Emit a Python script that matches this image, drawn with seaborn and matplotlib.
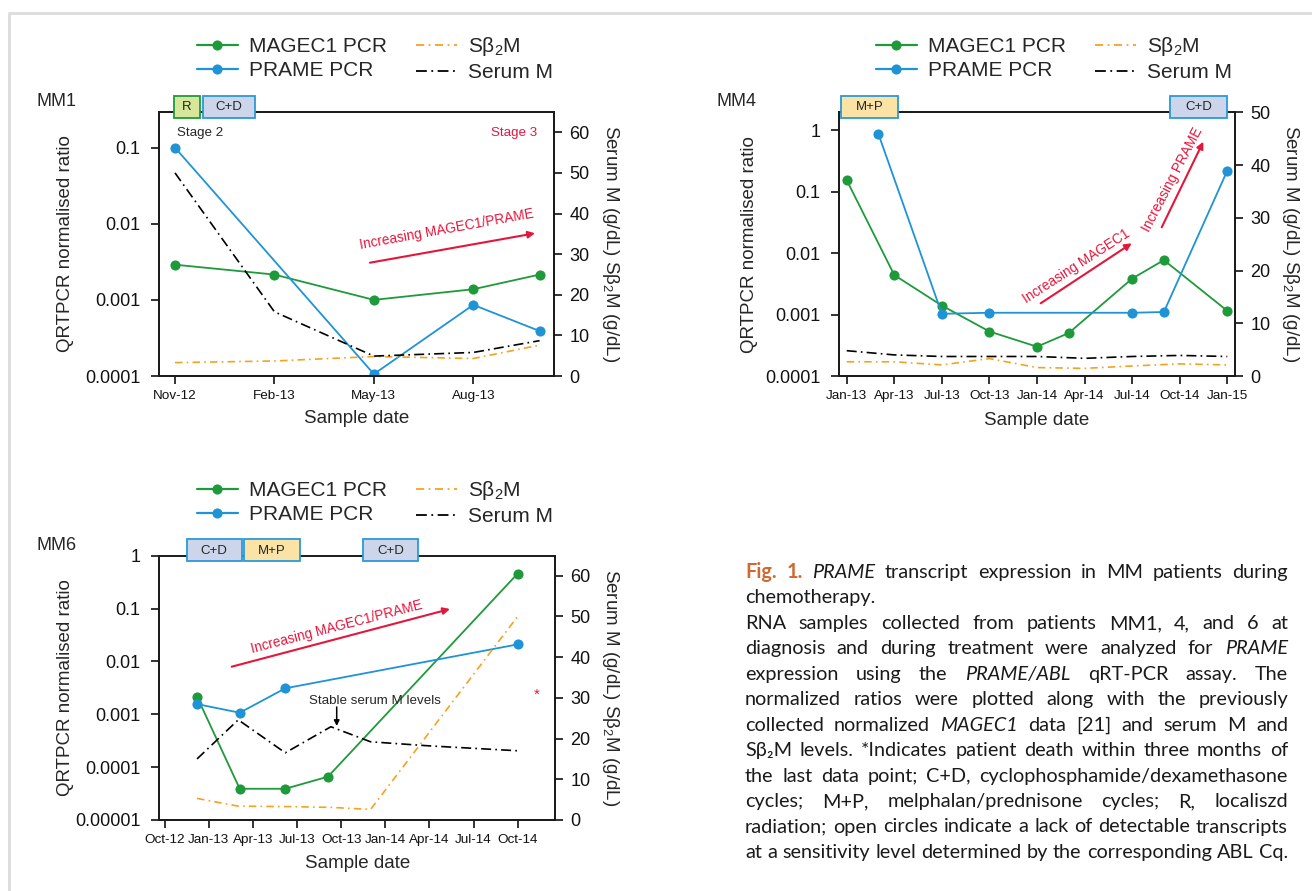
import matplotlib
matplotlib.use('Agg')
import matplotlib.pyplot as plt
import matplotlib.ticker as mticker
from matplotlib.lines import Line2D
from matplotlib.patches import Rectangle, FancyArrowPatch
import seaborn as sns

# ---------------- data (x = months since Jan-2012) ----------------
SERIES = ['MAGEC1 PCR', 'PRAME PCR', r'S$\mathrm{\beta}_\mathrm{2}$M', 'Serum M']

# MM1
mm1_magec1_x = [10, 13, 16, 19, 21]
mm1_magec1_y = [2.9e-3, 2.15e-3, 1.0e-3, 1.38e-3, 2.15e-3]
mm1_prame_x = [10, 16, 19, 21]
mm1_prame_y = [0.1, 1.06e-4, 8.6e-4, 3.9e-4]
mm1_serum_x = [10, 13, 16, 19, 21]
mm1_serum_m = [50, 15.8, 4.9, 5.8, 8.7]
mm1_sb2m_x = [10, 13, 16, 19, 21]
mm1_sb2m = [3.3, 3.7, 4.8, 4.3, 7.6]
mm1_xticks = [10, 13, 16, 19]
mm1_xlabels = ['Nov-12', 'Feb-13', 'May-13', 'Aug-13']
mm1_yticks = [1e-4, 1e-3, 1e-2, 1e-1]
mm1_ylabels = ['0.0001', '0.001', '0.01', '0.1']
mm1_rticks = [0, 10, 20, 30, 40, 50, 60]

# MM4
mm4_magec1_x = [12, 15, 18, 21, 24, 26, 30, 32, 36]
mm4_magec1_y = [0.154, 4.4e-3, 1.4e-3, 5.3e-4, 3.0e-4, 5.0e-4, 3.85e-3, 7.7e-3, 1.15e-3]
mm4_prame_x = [14, 18, 21, 30, 32, 36]
mm4_prame_y = [0.87, 1.03e-3, 1.07e-3, 1.07e-3, 1.1e-3, 0.22]
mm4_serum_x = [12, 15, 18, 21, 24, 27, 30, 33, 36]
mm4_serum_m = [4.8, 4.0, 3.7, 3.7, 3.7, 3.35, 3.7, 3.9, 3.7]
mm4_sb2m_x = [12, 15, 18, 21, 24, 27, 30, 33, 36]
mm4_sb2m = [2.7, 2.7, 2.1, 3.3, 1.6, 1.45, 1.9, 2.3, 2.1]
mm4_xticks = [12, 15, 18, 21, 24, 27, 30, 33, 36]
mm4_xlabels = ['Jan-13', 'Apr-13', 'Jul-13', 'Oct-13', 'Jan-14', 'Apr-14', 'Jul-14', 'Oct-14', 'Jan-15']
mm4_yticks = [1e-4, 1e-3, 1e-2, 1e-1, 1]
mm4_ylabels = ['0.0001', '0.001', '0.01', '0.1', '1']
mm4_rticks = [0, 10, 20, 30, 40, 50]

# MM6
mm6_magec1_x = [11.2, 14.1, 17.2, 20.1, 33]
mm6_magec1_y = [2.14e-3, 3.9e-5, 3.9e-5, 6.6e-5, 0.46]
mm6_prame_x = [11.2, 14.1, 17.2, 33]
mm6_prame_y = [1.56e-3, 1.07e-3, 3.1e-3, 0.021]
mm6_serum_x = [11.2, 14.0, 17.2, 20.3, 23, 27, 33]
mm6_serum_m = [15, 24.6, 16.5, 22.9, 19.2, 18.2, 17.0]
mm6_sb2m_x = [11.2, 14.0, 17.2, 20.3, 23, 33]
mm6_sb2m = [5.3, 3.4, 3.3, 3.1, 2.6, 50]
mm6_xticks = [9, 12, 15, 18, 21, 24, 27, 30, 33]
mm6_xlabels = ['Oct-12', 'Jan-13', 'Apr-13', 'Jul-13', 'Oct-13', 'Jan-14', 'Apr-14', 'Jul-14', 'Oct-14']
mm6_yticks = [1e-5, 1e-4, 1e-3, 1e-2, 1e-1, 1]
mm6_ylabels = ['0.00001', '0.0001', '0.001', '0.01', '0.1', '1']
mm6_rticks = [0, 10, 20, 30, 40, 50, 60]

CAPTION = [
    ("^Fig.^ ^1.^ _PRAME_ transcript expression in MM patients during", True),
    ("chemotherapy.", False),
    ("RNA samples collected from patients MM1, 4, and 6 at", True),
    ("diagnosis and during treatment were analyzed for _PRAME_", True),
    ("expression using the _PRAME/ABL_ qRT-PCR assay. The", True),
    ("normalized ratios were plotted along with the previously", True),
    ("collected normalized _MAGEC1_ data [21] and serum M and", True),
    ("Sβ₂M levels. *Indicates patient death within three months of", True),
    ("the last data point; C+D, cyclophosphamide/dexamethasone", True),
    ("cycles; M+P, melphalan/prednisone cycles; R, localiszd", True),
    ("radiation; open circles indicate a lack of detectable transcripts", True),
    ("at a sensitivity level determined by the corresponding ABL Cq.", True),
]

# ---------------- style ----------------
GREEN = '#1f9a3b'
BLUE = '#1f93d6'
ORANGE = '#f5a31f'
RED = '#e5163c'
FIGC = '#cf6a2e'
CD_FILL, MP_FILL, R_FILL = '#ccd5ea', '#fbe3a5', '#d6e69a'
BOX_EDGE = '#2b9ad8'
SM_LS = (0, (6, 2.5, 1, 2.5))
SB_LS = (0, (4.5, 2.5, 1, 2.5))

sns.set_style('ticks')
plt.rcParams['font.family'] = ['Liberation Sans', 'DejaVu Sans']
plt.rcParams['mathtext.fontset'] = 'custom'
plt.rcParams['mathtext.rm'] = 'Liberation Sans'
plt.rcParams['mathtext.it'] = 'Liberation Sans:italic'
plt.rcParams['axes.edgecolor'] = '#1a1a1a'
plt.rcParams['axes.linewidth'] = 1.3

W, H = 1312, 891
fig = plt.figure(figsize=(W / 100, H / 100), dpi=100)
fig.patch.set_facecolor('white')


def fx(x):
    return x / W


def fy(y):
    return 1 - y / H


def P(x, y):
    return (fx(x), fy(y))


def draw_panel(rect_px, xlim, ylim, rlim, d, ylab_x, xlab_y, legend_xy):
    l, t, r, b = rect_px
    ax = fig.add_axes([fx(l), fy(b), (r - l) / W, (b - t) / H])
    ax.set_yscale('log')
    ax2 = ax.twinx()
    sns.lineplot(x=d['mx'], y=d['my'], ax=ax, color=GREEN, marker='o', markersize=7.3,
                 mec=GREEN, mew=0, linewidth=1.3, sort=False, estimator=None)
    sns.lineplot(x=d['px'], y=d['py'], ax=ax, color=BLUE, marker='o', markersize=7.3,
                 mec=BLUE, mew=0, linewidth=1.3, sort=False, estimator=None)
    sns.lineplot(x=d['bx'], y=d['b'], ax=ax2, color=ORANGE, linestyle=SB_LS,
                 linewidth=1.2, sort=False, estimator=None)
    sns.lineplot(x=d['sx'], y=d['s'], ax=ax2, color='black', linestyle=SM_LS,
                 linewidth=1.2, sort=False, estimator=None)
    ax.set_xlim(*xlim)
    ax.set_ylim(*ylim)
    ax2.set_ylim(*rlim)
    ax.xaxis.set_major_locator(mticker.FixedLocator(d['xt']))
    ax.xaxis.set_major_formatter(mticker.FixedFormatter(d['xl']))
    ax.yaxis.set_major_locator(mticker.FixedLocator(d['yt']))
    ax.yaxis.set_minor_locator(mticker.NullLocator())
    ax.yaxis.set_major_formatter(mticker.FixedFormatter(d['yl']))
    ax2.yaxis.set_major_locator(mticker.FixedLocator(d['rt']))
    ax2.yaxis.set_major_formatter(mticker.FixedFormatter([str(v) for v in d['rt']]))
    ax.tick_params(axis='y', direction='out', length=5.5, width=1.2, pad=8,
                   colors='#111', labelsize=13)
    ax.tick_params(axis='x', direction='out', length=5.5, width=1.2, pad=4.5,
                   colors='#111', labelsize=9.7)
    ax2.tick_params(axis='y', direction='out', length=5.5, width=1.2, pad=5.5,
                    colors='#111', labelsize=13)
    ax.set_ylabel('QRTPCR normalised ratio', fontsize=13.5, va='center')
    ax.yaxis.set_label_coords((ylab_x - l) / (r - l), 0.5)
    ax.set_xlabel('Sample date', fontsize=13.5, va='center')
    ax.xaxis.set_label_coords(0.5, -(xlab_y - b) / (b - t))
    ax2.set_ylabel(r'Serum M (g/dL) S$\mathrm{\beta}_\mathrm{2}$M (g/dL)', fontsize=13.5,
                   rotation=270, va='center', ha='center')
    ax2.yaxis.set_label_coords((r + 56 - l) / (r - l), 0.5)
    ax.grid(False)
    ax2.grid(False)

    handles = [Line2D([], [], color=GREEN, marker='o', ms=7.3, mew=0, lw=1.6),
               Line2D([], [], color=BLUE, marker='o', ms=7.3, mew=0, lw=1.6),
               Line2D([], [], color=ORANGE, ls=SB_LS, lw=1.3),
               Line2D([], [], color='black', ls=SM_LS, lw=1.3)]
    ax2.legend(handles, SERIES, ncol=2, loc='upper left', bbox_to_anchor=P(*legend_xy),
               bbox_transform=fig.transFigure, frameon=False, fontsize=15,
               handlelength=1.95, handletextpad=0.55, columnspacing=1.4,
               labelspacing=0.25, borderpad=0, borderaxespad=0)
    return ax, ax2


panels = [
    dict(mx=mm1_magec1_x, my=mm1_magec1_y, px=mm1_prame_x, py=mm1_prame_y,
         sx=mm1_serum_x, s=mm1_serum_m, bx=mm1_sb2m_x, b=mm1_sb2m,
         xt=mm1_xticks, xl=mm1_xlabels, yt=mm1_yticks, yl=mm1_ylabels, rt=mm1_rticks),
    dict(mx=mm4_magec1_x, my=mm4_magec1_y, px=mm4_prame_x, py=mm4_prame_y,
         sx=mm4_serum_x, s=mm4_serum_m, bx=mm4_sb2m_x, b=mm4_sb2m,
         xt=mm4_xticks, xl=mm4_xlabels, yt=mm4_yticks, yl=mm4_ylabels, rt=mm4_rticks),
    dict(mx=mm6_magec1_x, my=mm6_magec1_y, px=mm6_prame_x, py=mm6_prame_y,
         sx=mm6_serum_x, s=mm6_serum_m, bx=mm6_sb2m_x, b=mm6_sb2m,
         xt=mm6_xticks, xl=mm6_xlabels, yt=mm6_yticks, yl=mm6_ylabels, rt=mm6_rticks),
]

ax1, ax1r = draw_panel((159.3, 112, 554.3, 376), (9.526, 21.444), (1e-4, 0.294), (0, 65),
                       panels[0], 66, 418, (197, 35))
ax4, ax4r = draw_panel((839, 112.3, 1235, 376), (11.514, 36.486), (1e-4, 1.96), (0, 50),
                       panels[1], 750, 420, (876, 35))
ax6, ax6r = draw_panel((159.3, 555.7, 555, 820), (8.633, 35.536), (1e-5, 1), (0, 64.9),
                       panels[2], 66, 863, (197, 479))
ax6.spines['top'].set_color('#555555')

# panel names
for name, (x, y) in [('MM1', (37, 102)), ('MM4', (717, 102)), ('MM6', (37, 545))]:
    fig.text(fx(x), fy(y), name, fontsize=13, ha='left', va='center')

# treatment boxes
boxes = [
    (174, 200, 96, 118, 'R', R_FILL, GREEN),
    (202.7, 255.3, 96, 118, 'C+D', CD_FILL, BOX_EDGE),
    (840.7, 898.3, 96, 118, 'M+P', MP_FILL, BOX_EDGE),
    (1170, 1227.3, 96, 118, 'C+D', CD_FILL, BOX_EDGE),
    (186.7, 241.7, 539.3, 561.3, 'C+D', CD_FILL, BOX_EDGE),
    (244, 300, 539.3, 561.3, 'M+P', MP_FILL, BOX_EDGE),
    (363.3, 418.3, 539.3, 561.3, 'C+D', CD_FILL, BOX_EDGE),
]
for x0, x1, y0, y1, lab, fc, ec in boxes:
    fig.add_artist(Rectangle(P(x0, y1), (x1 - x0) / W, (y1 - y0) / H, transform=fig.transFigure,
                             facecolor=fc, edgecolor=ec, linewidth=1.3, zorder=5))
    fig.text(fx((x0 + x1) / 2), fy((y0 + y1) / 2 + 0.5), lab, fontsize=9.5, ha='center',
             va='center', zorder=6)

# annotations
fig.text(fx(177), fy(133), 'Stage 2', fontsize=9.6, ha='left', va='center')
fig.text(fx(537), fy(133), 'Stage 3', fontsize=9.6, ha='right', va='center', color=RED)
fig.text(fx(536.7), fy(695), '*', fontsize=11, ha='center', va='center', color=RED)
fig.text(fx(374.7), fy(700.5), 'Stable serum M levels', fontsize=9.6, ha='center', va='center')

notes = [
    ('Increasing MAGEC1/PRAME', (447, 229), 10.3, (370, 262.7), (535, 233.3)),
    ('Increasing MAGEC1', (1076, 266), 33.0, (1040.7, 303.3), (1131.7, 243.3)),
    ('Increasing PRAME', (1172, 180), 62.5, (1161.7, 227.3), (1203.3, 141.7)),
    ('Increasing MAGEC1/PRAME', (337, 627), 14.6, (231.7, 666.7), (450, 609)),
]
for txt, (cx, cy), rot, a0, a1 in notes:
    fig.text(fx(cx), fy(cy), txt, fontsize=9.8, color=RED, rotation=rot, ha='center',
             va='center', rotation_mode='anchor')
    fig.add_artist(FancyArrowPatch(P(*a0), P(*a1), transform=fig.transFigure,
                                   arrowstyle='-|>', color=RED, lw=1.5, mutation_scale=10,
                                   shrinkA=0, shrinkB=0, zorder=6))
fig.add_artist(FancyArrowPatch(P(336.7, 707), P(336.7, 726), transform=fig.transFigure,
                               arrowstyle='-|>', color='black', lw=1.1, mutation_scale=8,
                               shrinkA=0, shrinkB=0, zorder=6))

# page frame
fig.add_artist(Line2D([fx(9), fx(9), fx(1312)], [fy(891), fy(13), fy(13)],
                      transform=fig.transFigure, color='#dcdcdc', lw=2))

# ---------------- caption (justified) ----------------
CAP_FAMILY = ['Lato', 'DejaVu Sans']
X0, X1 = 745, 1288
BASE0, DY = 578, 25.45
renderer = fig.canvas.get_renderer()


def parse(tok):
    if len(tok) > 2 and tok.startswith('^') and tok.endswith('^'):
        return tok[1:-1], dict(color=FIGC, fontweight='bold')
    if len(tok) > 2 and tok.startswith('_') and tok.endswith('_'):
        return tok[1:-1], dict(style='italic')
    return tok, {}


def measure(s, size, **kw):
    t = fig.text(0, 0, s, fontsize=size, family=CAP_FAMILY, **kw)
    w = t.get_window_extent(renderer=renderer).width
    t.remove()
    return w


base = 14.3
space = measure('x x', base) - measure('xx', base)
need = []
for line, _ in CAPTION:
    ws = [measure(s, base, **kw) for s, kw in (parse(w) for w in line.split())]
    need.append(sum(ws) + 0.5 * space * (len(ws) - 1))
size = base * min(1.0, (X1 - X0 - 1) / max(need))

space = measure('x x', size) - measure('xx', size)
for i, (line, just) in enumerate(CAPTION):
    words = [parse(w) for w in line.split()]
    widths = [measure(s, size, **kw) for s, kw in words]
    if just and len(words) > 1:
        gap = (X1 - X0 - sum(widths)) / (len(words) - 1)
    else:
        gap = space
    x = X0
    y = BASE0 + i * DY
    for (s, kw), w in zip(words, widths):
        fig.text(fx(x), fy(y), s, fontsize=size, family=CAP_FAMILY, ha='left',
                 va='baseline', color=kw.get('color', '#1a1a1a'),
                 fontweight=kw.get('fontweight', 'normal'), style=kw.get('style', 'normal'))
        x += w + gap

fig.savefig('out.png', dpi=100, facecolor='white')
